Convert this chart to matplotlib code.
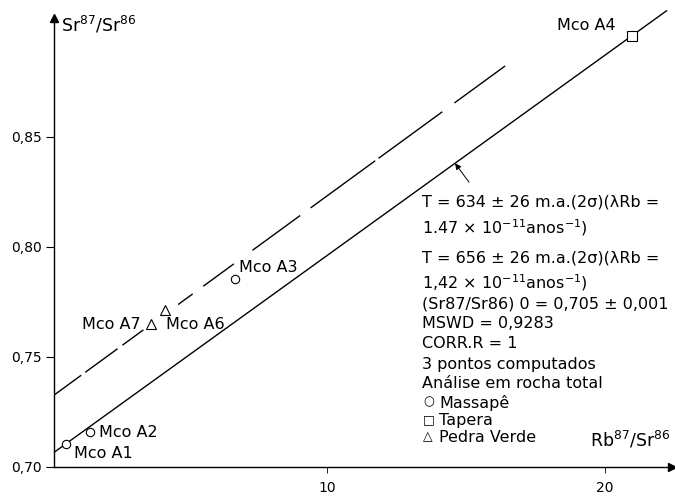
import matplotlib.pyplot as plt
import numpy as np

plt.rcParams['font.family'] = ['DejaVu Sans']
plt.rcParams['mathtext.fontset'] = 'dejavusans'

# samples (Rb87/Sr86, Sr87/Sr86)
massape_names = ["Mco A1", "Mco A2", "Mco A3"]
massape_x = [0.61, 1.47, 6.69]
massape_y = [0.7105, 0.716, 0.7855]

tapera_names = ["Mco A4"]
tapera_x = [20.97]
tapera_y = [0.896]

pedra_names = ["Mco A6", "Mco A7"]
pedra_x = [4.17, 3.67]
pedra_y = [0.7714, 0.765]

# isochrons: intercept, slope, x range
iso1 = (0.705, 0.00911, 0.2, 22.2)   # solid
iso2 = (0.731, 0.00922, 0.2, 16.4)   # dashed

yticks = [0.70, 0.75, 0.80, 0.85]
ytick_labels = ["0,70", "0,75", "0,80", "0,85"]
xticks = [10, 20]

# hand-drawn looking dash pattern (on/off, pixels)
dash_px = [33, 5, 40, 6, 26, 43, 18, 13, 38, 23, 59, 13, 80, 4, 79, 15, 70, 10]
dash_pt = [d * 0.72 for d in dash_px]

fig = plt.figure(figsize=(6.75, 4.97), dpi=100)
ax = fig.add_axes([54/675, 30/497, 618/675, 449/497])
ax.set_xlim(0.18, 22.4)
ax.set_ylim(0.70, 0.904)

for s in ['top', 'right']:
    ax.spines[s].set_visible(False)
for s in ['left', 'bottom']:
    ax.spines[s].set_linewidth(1.0)

ax.set_yticks(yticks)
ax.set_yticklabels(ytick_labels, fontsize=10)
ax.set_xticks(xticks)
ax.set_xticklabels([str(t) for t in xticks], fontsize=10)
ax.tick_params(axis='y', length=6, width=0.8, pad=3)
ax.tick_params(axis='x', length=4, width=0.6, pad=6)

# axis arrows
ax.plot(1, 0, '>', color='k', ms=6, transform=ax.transAxes, clip_on=False)
ax.plot(0, 1, '^', color='k', ms=6, transform=ax.transAxes, clip_on=False)

# isochron lines
a, b, x0, x1 = iso1
xs = np.array([x0, x1])
ax.plot(xs, a + b * xs, color='k', lw=1.0, clip_on=False)
a, b, x0, x1 = iso2
xs = np.array([x0, x1])
ax.plot(xs, a + b * xs, color='k', lw=1.0, dashes=dash_pt)

mk = dict(mfc='white', mec='k', mew=0.8, ls='none', zorder=3, clip_on=False)
ax.plot(massape_x, massape_y, 'o', ms=6, **mk)
ax.plot(tapera_x, tapera_y, 's', ms=6.5, **mk)
ax.plot(pedra_x, pedra_y, '^', ms=7, **mk)

lab = dict(fontsize=11.5, textcoords='offset pixels', va='center')
offsets = {"Mco A1": (8, -10, 'left'), "Mco A2": (9, -1, 'left'),
           "Mco A3": (4, 11, 'left'), "Mco A4": (-17, 10, 'right'),
           "Mco A6": (1, -15, 'left'), "Mco A7": (-10, -1, 'right')}
for names, xv, yv in [(massape_names, massape_x, massape_y),
                      (tapera_names, tapera_x, tapera_y),
                      (pedra_names, pedra_x, pedra_y)]:
    for n, x, y in zip(names, xv, yv):
        dx, dy, ha = offsets[n]
        ax.annotate(n, (x, y), xytext=(dx, dy), ha=ha, **lab)

# arrow to the solid isochron
xa = 14.6
ax.annotate("", (xa, iso1[0] + iso1[1] * xa), xytext=(14, -19),
            textcoords='offset pixels',
            arrowprops=dict(arrowstyle='-|>', color='k', lw=0.7,
                            mutation_scale=9, shrinkA=0, shrinkB=0))

# axis titles
fig.text(61/675, 1 - 25/497, r"Sr$^{87}$/Sr$^{86}$", fontsize=12.5, va='center')
fig.text(670/675, 1 - 440/497, r"Rb$^{87}$/Sr$^{86}$", fontsize=12.5,
         va='center', ha='right')

# information block
info = [
    (202, "T = 634 ± 26 m.a.(2σ)(λRb ="),
    (228, r"1.47 $\times$ 10$^{-11}$anos$^{-1}$)"),
    (258, "T = 656 ± 26 m.a.(2σ)(λRb ="),
    (283, r"1,42 $\times$ 10$^{-11}$anos$^{-1}$)"),
    (304, "(Sr87/Sr86) 0 = 0,705 ± 0,001"),
    (324, "MSWD = 0,9283"),
    (344, "CORR.R = 1"),
    (364, "3 pontos computados"),
    (383, "Análise em rocha total"),
]
for y, t in info:
    fig.text(422/675, 1 - y/497, t, fontsize=11.5, va='center')

# key to the symbols
key_symbols = ["○", "□", "△"]
key_labels = ["Massapê", "Tapera", "Pedra Verde"]
key_y = [402, 420, 437]
for y, s, t in zip(key_y, key_symbols, key_labels):
    fig.text(423/675, 1 - y/497, s, fontsize=9, va='center')
    fig.text(439/675, 1 - (y + 1)/497, t, fontsize=11.5, va='center')

fig.savefig("out.png", dpi=100)
